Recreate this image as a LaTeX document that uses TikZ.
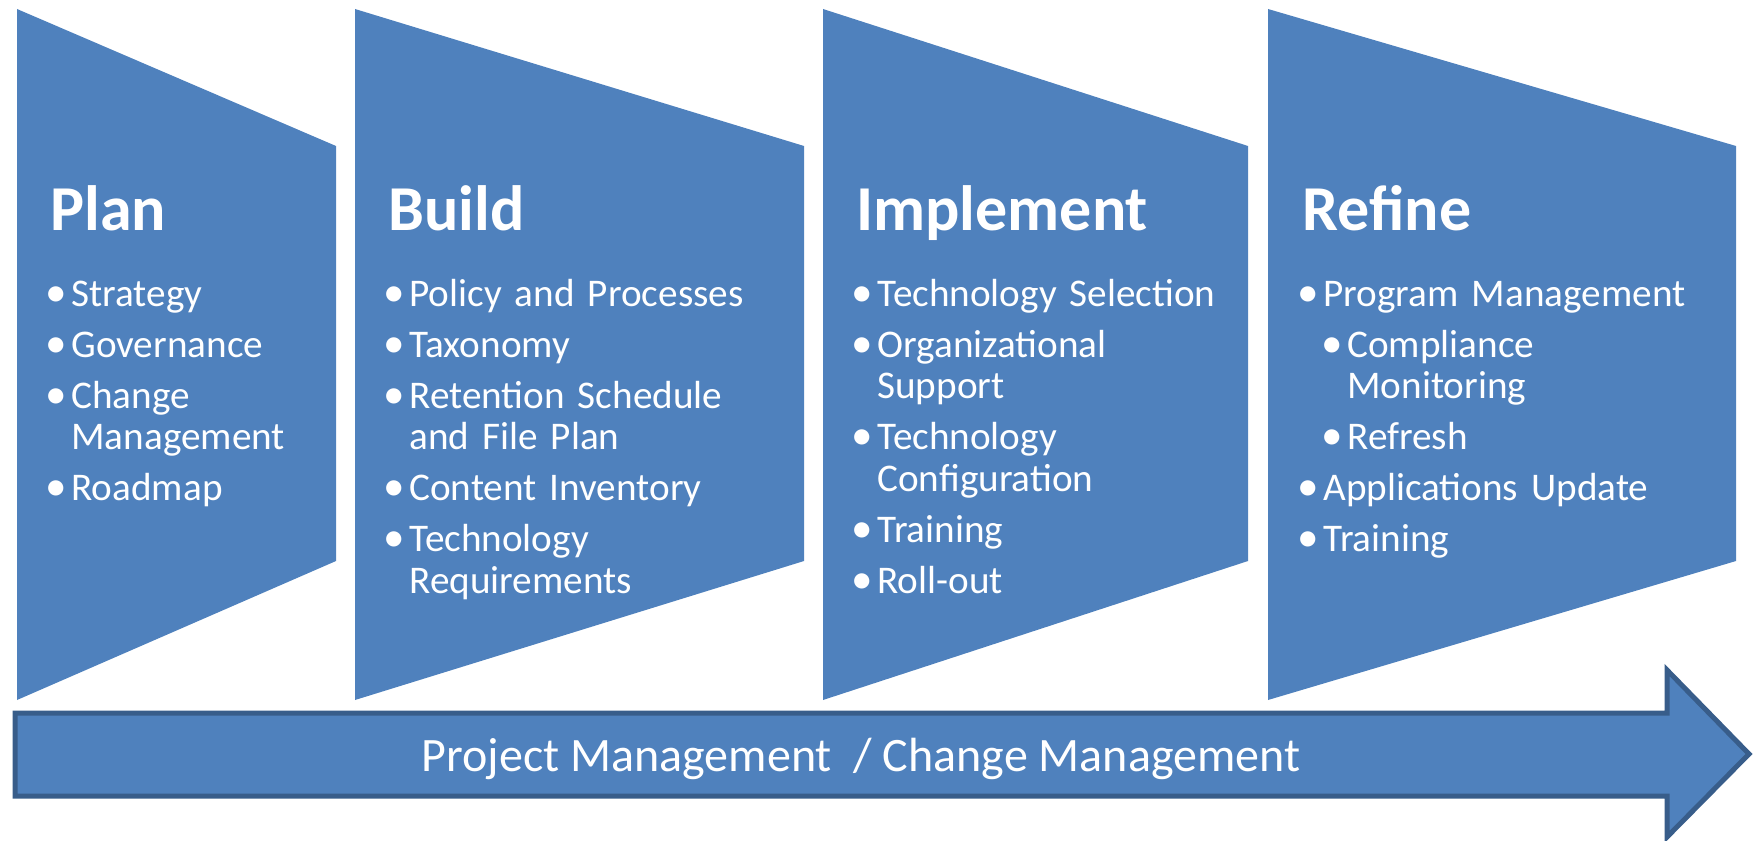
\documentclass[tikz,border=0pt]{standalone}
\usepackage{fontspec}
\setmainfont{Carlito}

\definecolor{stageblue}{HTML}{4F81BD}
\definecolor{stageedge}{HTML}{385D8A}

% bullet lines inside a stage list
\newcommand\pbullet{\makebox[10.5pt][l]{\hspace*{-2.5pt}\scalebox{1.1}{\textbullet}}}
\newcommand\pitem[1]{\hangindent=10.5pt\hangafter=1\noindent\pbullet#1\par}
\newcommand\subpitem[1]{\hangindent=22.5pt\hangafter=1\noindent\hspace*{12pt}\pbullet#1\par}

\tikzset{
  stagetitle/.style={anchor=base west, inner sep=0pt, text=white,
    font=\fontsize{32}{38}\selectfont\bfseries},
  stagelist/.style={anchor=base west, inner sep=0pt, text=white,
    text width=230pt, align=left, font=\fontsize{19.6}{20.85}\selectfont,
    execute at begin node={\setlength{\parskip}{4.65pt}}},
}

\begin{document}
\begin{tikzpicture}[x=0.5pt, y=-0.5pt]
  \useasboundingbox (0,0) rectangle (1760,840);

  % the four stage panels
  \foreach \xl/\xr in {17/336, 355/804, 823/1248, 1268/1736}
    \fill[stageblue] (\xl,9) -- (\xr,146) -- (\xr,561) -- (\xl,700) -- cycle;

  % project arrow along the bottom
  \draw[fill=stageblue, draw=stageedge, line width=2.5pt, line join=miter]
    (15,713) -- (1667,713) -- (1667,670) -- (1749,754)
    -- (1667,837) -- (1667,796) -- (15,796) -- cycle;
  \node[anchor=base, inner sep=0pt, text=white, font=\fontsize{24}{28}\selectfont]
    (pm) at (861,771) {Project Management\ \ / Change Management};

  % Plan
  \node[stagetitle] (plan) at (50,230) {Plan};
  \node[stagelist] (plan-list) at (50,306) {%
    \pitem{Strategy}
    \pitem{Governance}
    \pitem{Change\newline Management}
    \pitem{Roadmap}};

  % Build
  \node[stagetitle] (build) at (388,230) {Build};
  \node[stagelist] (build-list) at (388,306) {%
    \pitem{Policy and Processes}
    \pitem{Taxonomy}
    \pitem{Retention Schedule\newline and File Plan}
    \pitem{Content Inventory}
    \pitem{Technology\newline Requirements}};

  % Implement
  \node[stagetitle] (implement) at (856,230) {Implement};
  \node[stagelist] (implement-list) at (856,306) {%
    \pitem{Technology Selection}
    \pitem{Organizational\newline Support}
    \pitem{Technology\newline Configuration}
    \pitem{Training}
    \pitem{Roll-out}};

  % Refine
  \node[stagetitle] (refine) at (1302,230) {Refine};
  \node[stagelist] (refine-list) at (1302,306) {%
    \pitem{Program Management}
    \subpitem{Compliance\newline Monitoring}
    \subpitem{Refresh}
    \pitem{Applications Update}
    \pitem{Training}};
\end{tikzpicture}
\end{document}
